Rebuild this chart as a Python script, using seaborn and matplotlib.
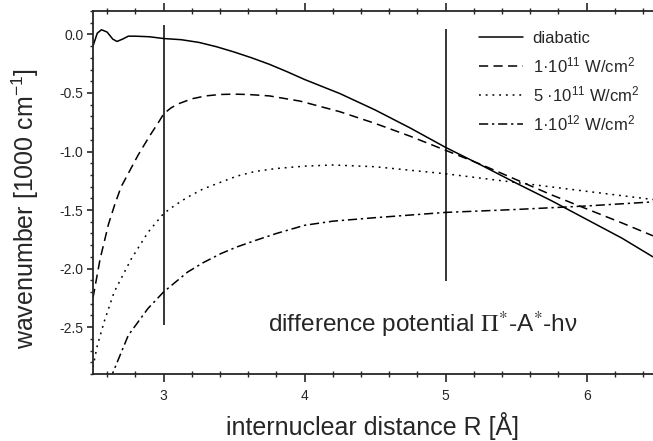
import matplotlib
matplotlib.use("Agg")
import matplotlib.pyplot as plt
import seaborn as sns
from matplotlib.ticker import MultipleLocator, FormatStrFormatter

# Werte
r_diab = [2.50, 2.53, 2.56, 2.60, 2.64, 2.67, 2.71, 2.75, 2.80, 2.90, 3.00, 3.125, 3.25,
          3.375, 3.50, 3.625, 3.75, 3.875, 4.00, 4.25, 4.50, 4.75, 5.00, 5.25, 5.50,
          5.75, 6.00, 6.25, 6.47]
diabatic = [-0.10, 0.01, 0.04, 0.02, -0.04, -0.06, -0.04, -0.015, -0.015, -0.02, -0.035, -0.045,
            -0.068, -0.105, -0.15, -0.20, -0.255, -0.318, -0.385, -0.505, -0.645, -0.80,
            -0.965, -1.115, -1.27, -1.42, -1.58, -1.74, -1.90]

r_1e11 = [2.50, 2.55, 2.61, 2.655, 2.70, 2.82, 2.90, 2.97, 3.00, 3.05, 3.10, 3.20, 3.30,
          3.40, 3.50, 3.60, 3.75, 3.97, 4.25, 4.50, 4.75, 5.00, 5.25, 5.50, 5.75, 6.00,
          6.25, 6.47]
i_1e11 = [-2.25, -1.92, -1.62, -1.45, -1.30, -1.03, -0.87, -0.74, -0.68, -0.63, -0.595,
          -0.55, -0.525, -0.513, -0.51, -0.513, -0.525, -0.57, -0.66, -0.76, -0.87, -0.99,
          -1.11, -1.24, -1.37, -1.49, -1.61, -1.72]

r_5e11 = [2.50, 2.53, 2.58, 2.65, 2.77, 2.89, 3.00, 3.08, 3.17, 3.28, 3.41, 3.52, 3.65,
          3.80, 4.00, 4.20, 4.50, 5.00, 5.50, 6.00, 6.47]
i_5e11 = [-2.84, -2.66, -2.45, -2.20, -1.92, -1.69, -1.53, -1.46, -1.39, -1.32, -1.26,
          -1.21, -1.17, -1.145, -1.125, -1.115, -1.13, -1.19, -1.265, -1.34, -1.41]

r_1e12 = [2.62, 2.75, 2.89, 3.00, 3.08, 3.17, 3.28, 3.41, 3.52, 3.65, 3.80, 4.00, 4.20,
          4.50, 5.00, 5.50, 6.00, 6.47]
i_1e12 = [-2.95, -2.57, -2.34, -2.20, -2.12, -2.03, -1.95, -1.87, -1.815, -1.76, -1.70,
          -1.63, -1.595, -1.565, -1.52, -1.495, -1.465, -1.43]

# senkrechte Markierungen
vline_x = [3.0, 5.0]
vline_lo = [-2.48, -2.11]
vline_hi = [0.08, 0.05]

labels = ["diabatic",
          "1\u00b710$^{11}$ W/cm$^{2}$",
          "5 \u00b710$^{11}$ W/cm$^{2}$",
          "1\u00b710$^{12}$ W/cm$^{2}$"]

sns.set_style("ticks")
plt.rcParams["font.family"] = ["Liberation Sans", "DejaVu Sans"]
plt.rcParams["mathtext.fontset"] = "custom"
plt.rcParams["mathtext.rm"] = "Liberation Sans"
plt.rcParams["mathtext.it"] = "Liberation Sans:italic"

fig = plt.figure(figsize=(6.53, 4.41), dpi=100)
ax = fig.add_axes([93 / 653, 1 - 374 / 441, 560 / 653, 363 / 441])

lw = 1.1
sns.lineplot(x=r_diab, y=diabatic, ax=ax, color="k", lw=lw, label=labels[0],
             estimator=None)
sns.lineplot(x=r_1e11, y=i_1e11, ax=ax, color="k", lw=lw, label=labels[1],
             linestyle=(0, (6, 3.5)), estimator=None)
sns.lineplot(x=r_5e11, y=i_5e11, ax=ax, color="k", lw=lw, label=labels[2],
             linestyle=(0, (1.2, 3.2)), estimator=None)
sns.lineplot(x=r_1e12, y=i_1e12, ax=ax, color="k", lw=lw, label=labels[3],
             linestyle=(0, (6, 2.5, 1.5, 2.5)), estimator=None)

ax.vlines(vline_x, vline_lo, vline_hi, color="k", lw=1.1)

ax.set_xlim(2.5, 6.47)
ax.set_ylim(-2.9, 0.2)
ax.xaxis.set_major_locator(MultipleLocator(1))
ax.xaxis.set_minor_locator(MultipleLocator(0.2))
ax.yaxis.set_major_locator(MultipleLocator(0.5))
ax.yaxis.set_minor_locator(MultipleLocator(0.1))
ax.yaxis.set_major_formatter(FormatStrFormatter("%.1f"))

for s in ["left", "bottom", "top"]:
    ax.spines[s].set_linewidth(1.3)
ax.spines["right"].set_visible(False)

ax.tick_params(axis="y", which="major", direction="out", length=4, width=1.2,
               labelsize=10, pad=3)
ax.tick_params(axis="y", which="minor", direction="out", length=2.5, width=1.0)
ax.tick_params(axis="x", which="major", direction="out", length=6, width=1.2,
               labelsize=10, pad=5, top=True)
ax.tick_params(axis="x", which="minor", direction="inout", length=4, width=1.0, top=True)

ax.set_xlabel("internuclear distance R [\u00c5]", fontsize=18, labelpad=6)
ax.set_ylabel("wavenumber [1000 cm$^{-1}$]", fontsize=18)
ax.yaxis.set_label_coords(-0.093, 0.457)

ax.text(3.74, -2.54, "difference potential $\\Pi^{*}$-A$^{*}$-h\u03bd",
        fontsize=17.6, va="baseline", math_fontfamily="stix")

ax.legend(loc="upper left", bbox_to_anchor=(0.69, 0.945), frameon=False,
          fontsize=12, handlelength=2.6, handletextpad=0.6, labelspacing=0.55,
          borderpad=0, borderaxespad=0)

fig.savefig("out.png", dpi=100)
